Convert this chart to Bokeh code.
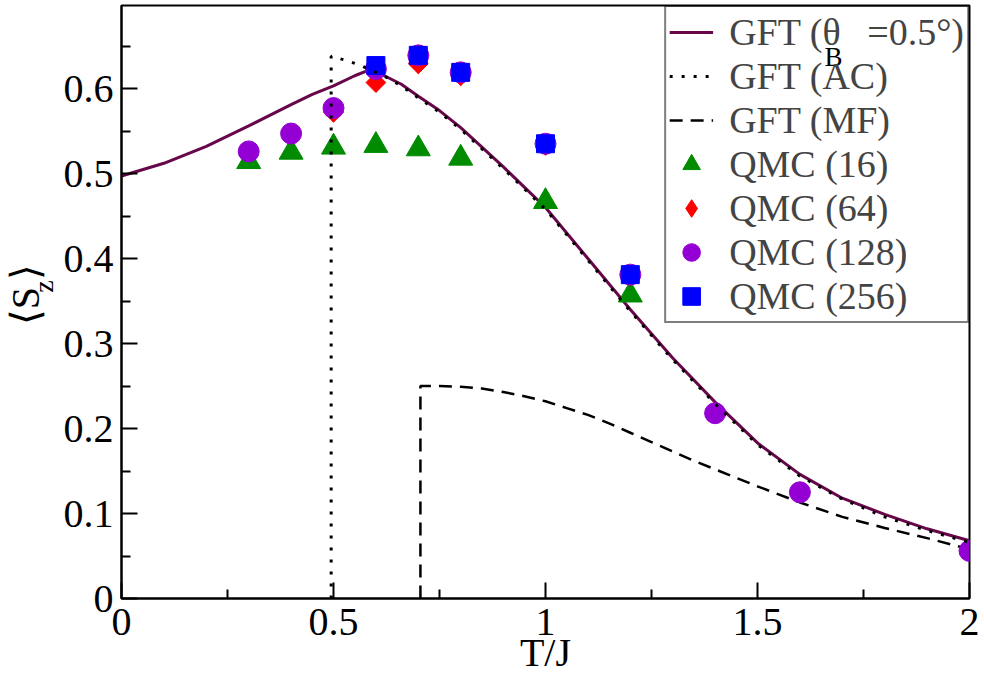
import numpy as np
from bokeh.plotting import figure
from bokeh.layouts import row
from bokeh.models import Range1d, FixedTicker, Legend, LegendItem, ColumnDataSource
from bokeh.core.properties import value
from bokeh.embed import file_html
from bokeh.resources import INLINE

# ---------------- data ----------------
gft_x = [0.0, 0.1, 0.2, 0.3, 0.4, 0.45, 0.5, 0.55, 0.585, 0.62, 0.66, 0.7, 0.75, 0.8,
         0.85, 0.9, 0.95, 1.0, 1.1, 1.2, 1.3, 1.4, 1.5, 1.6, 1.7, 1.8, 1.9, 2.0]
gft_y = [0.497, 0.512, 0.532, 0.556, 0.581, 0.593, 0.603, 0.615, 0.622, 0.615, 0.605, 0.591,
         0.574, 0.554, 0.531, 0.508, 0.484, 0.460, 0.400, 0.340, 0.283, 0.231, 0.183, 0.146,
         0.118, 0.099, 0.082, 0.068]

ac_x = [0.4945, 0.4945, 0.53, 0.565, 0.6, 0.63, 0.66, 0.7, 0.75, 0.8, 0.85, 0.9, 0.95, 1.0,
        1.1, 1.2, 1.3, 1.4, 1.5, 1.6, 1.7, 1.8, 1.9, 2.0]
ac_y = [0.0, 0.638, 0.633, 0.627, 0.619, 0.612, 0.603, 0.589, 0.572, 0.552, 0.529, 0.506,
        0.482, 0.458, 0.398, 0.338, 0.281, 0.229, 0.181, 0.144, 0.117, 0.096, 0.080, 0.066]

mf_x = [0.705, 0.705, 0.72, 0.75, 0.8, 0.85, 0.9, 0.95, 1.0, 1.05, 1.1, 1.15, 1.2, 1.25,
        1.3, 1.35, 1.4, 1.45, 1.5, 1.6, 1.7, 1.8, 1.9, 2.0]
mf_y = [0.0, 0.250, 0.250, 0.250, 0.249, 0.247, 0.243, 0.238, 0.232, 0.224, 0.216, 0.206,
        0.195, 0.184, 0.173, 0.162, 0.152, 0.142, 0.132, 0.113, 0.096, 0.083, 0.071, 0.058]

q16_x = [0.3, 0.4, 0.5, 0.6, 0.7, 0.8, 1.0, 1.2]
q16_y = [0.514, 0.525, 0.531, 0.533, 0.529, 0.518, 0.467, 0.357]

q64_x = [0.5, 0.6, 0.7, 0.8, 1.0, 1.2]
q64_y = [0.572, 0.607, 0.629, 0.615, 0.533, 0.380]

q128_x = [0.3, 0.4, 0.5, 0.6, 0.7, 0.8, 1.0, 1.2, 1.4, 1.6, 2.0]
q128_y = [0.526, 0.547, 0.577, 0.623, 0.639, 0.619, 0.535, 0.381, 0.218, 0.125, 0.056]

q256_x = [0.6, 0.7, 0.8, 1.0, 1.2]
q256_y = [0.627, 0.639, 0.619, 0.535, 0.381]

x_ticks = [0, 0.5, 1, 1.5, 2]
x_labels = ["0", "0.5", "1", "1.5", "2"]
x_minor = [0.25, 0.75, 1.25, 1.75]
y_ticks = [0, 0.1, 0.2, 0.3, 0.4, 0.5, 0.6]
y_labels = ["0", "0.1", "0.2", "0.3", "0.4", "0.5", "0.6"]
y_minor = [0.05, 0.15, 0.25, 0.35, 0.45, 0.55, 0.65]

# ---------------- layout ----------------
TOTAL_W, H = 984, 677
LAB_W = 60                                  # narrow strip holding the y-axis title
W = TOTAL_W - LAB_W
FL, FR, FT, FB = 121, 969, 5, 598           # frame edges in page pixels
PX_X = (FR - FL) / 2.0
PX_Y = 850.0
FONT = "Liberation Serif"

p = figure(width=W, height=H, output_backend="svg", toolbar_location=None, title=None,
           x_range=Range1d(0, 2), y_range=Range1d(0, (FB - FT) / PX_Y),
           min_border_left=FL - LAB_W, min_border_right=TOTAL_W - FR, min_border_top=FT,
           min_border_bottom=H - FB)
p.background_fill_color = "white"
p.border_fill_color = "white"
p.outline_line_color = "black"
p.outline_line_width = 2
p.grid.visible = False

p.xaxis.ticker = FixedTicker(ticks=x_ticks, minor_ticks=x_minor)
p.yaxis.ticker = FixedTicker(ticks=y_ticks, minor_ticks=y_minor)
p.xaxis.major_label_overrides = {t: l for t, l in zip(x_ticks, x_labels)}
p.yaxis.major_label_overrides = {t: l for t, l in zip(y_ticks, y_labels)}
for ax in (p.xaxis, p.yaxis):
    ax.major_label_text_font = FONT
    ax.major_label_text_font_size = "40px"
    ax.major_label_text_color = "black"
    ax.major_tick_in = 16
    ax.major_tick_out = 0
    ax.minor_tick_in = 9
    ax.minor_tick_out = 0
    ax.axis_line_width = 2
    ax.major_tick_line_width = 2
    ax.minor_tick_line_width = 2
p.yaxis.major_label_standoff = 8
p.xaxis.major_label_standoff = 10
p.xaxis.axis_label = "T/J"
p.xaxis.axis_label_text_font = FONT
p.xaxis.axis_label_text_font_size = "40px"
p.xaxis.axis_label_text_font_style = "normal"
p.xaxis.axis_label_text_color = "black"
p.xaxis.axis_label_standoff = -8

def xd(px):
    return (px - FL) / PX_X

def yd(py):
    return (FB - py) / PX_Y

# ---------------- glyphs ----------------
r_gft = p.line(gft_x, gft_y, line_color="#67074A", line_width=3)
r_mf = p.line(mf_x, mf_y, line_color="black", line_width=2.5, line_dash="13 8")
r16 = p.scatter(q16_x, q16_y, marker="triangle", size=24, fill_color="#008B00",
                line_color="#008B00")
r64_leg = p.scatter(q64_x, q64_y, marker="diamond", size=19, fill_color="#FF0000",
                    line_color="#FF0000")
r64 = p.scatter(q64_x, q64_y, marker="square", angle=np.pi / 4, size=14,
                fill_color="#FF0000", line_color="#FF0000")
r128 = p.scatter(q128_x, q128_y, marker="circle", size=21, fill_color="#9400D3",
                 line_color="#9400D3")
r256 = p.scatter(q256_x, q256_y, marker="square", size=18, fill_color="#0000FF",
                 line_color="#0000FF")
r_ac = p.line(ac_x, ac_y, line_color="black", line_width=3, line_dash="3 9")

legend = Legend(items=[
    LegendItem(label="GFT (\u03b8\u2002\u2009=0.5\u00b0)", renderers=[r_gft]),
    LegendItem(label="GFT (AC)", renderers=[r_ac]),
    LegendItem(label="GFT (MF)", renderers=[r_mf]),
    LegendItem(label="QMC (16)", renderers=[r16]),
    LegendItem(label="QMC (64)", renderers=[r64_leg]),
    LegendItem(label="QMC (128)", renderers=[r128]),
    LegendItem(label="QMC (256)", renderers=[r256]),
], location="top_right", margin=0, padding=3, spacing=0,
    label_height=44, glyph_height=44, glyph_width=44, label_standoff=16,
    label_text_font=FONT, label_text_font_size="38px",
    border_line_color="black", border_line_width=2, background_fill_alpha=0.0)
p.add_layout(legend)

# subscript B of theta inside the legend (drawn as a text glyph on top)
rb = p.text(x=[xd(824)], y=[yd(56)], text=["B"], text_font=value(FONT),
            text_font_size="27px", text_align="left", text_baseline="alphabetic",
            text_color="black")
rb.level = "overlay"

# ---------------- y-axis title strip ----------------
q = figure(width=LAB_W, height=H, output_backend="svg", toolbar_location=None, title=None,
           x_range=Range1d(0, LAB_W), y_range=Range1d(0, H),
           x_axis_location=None, y_axis_location=None, min_border=0)
q.outline_line_color = None
q.grid.visible = False
q.background_fill_color = "white"
q.border_fill_color = "white"
ylab_src = ColumnDataSource(dict(
    x=[25, 43, 25],
    y=[H - 365, H - 328, H - 313],
    text=["\u27e8S", "z", "\u27e9"],
    size=["40px", "28px", "40px"],
))
q.text(x="x", y="y", text="text", source=ylab_src, angle=np.pi / 2,
       text_font=value(FONT), text_font_size="size", text_align="left",
       text_baseline="alphabetic", text_color="black")

layout = row(q, p)
open("out.html", "w").write(file_html(layout, INLINE))
